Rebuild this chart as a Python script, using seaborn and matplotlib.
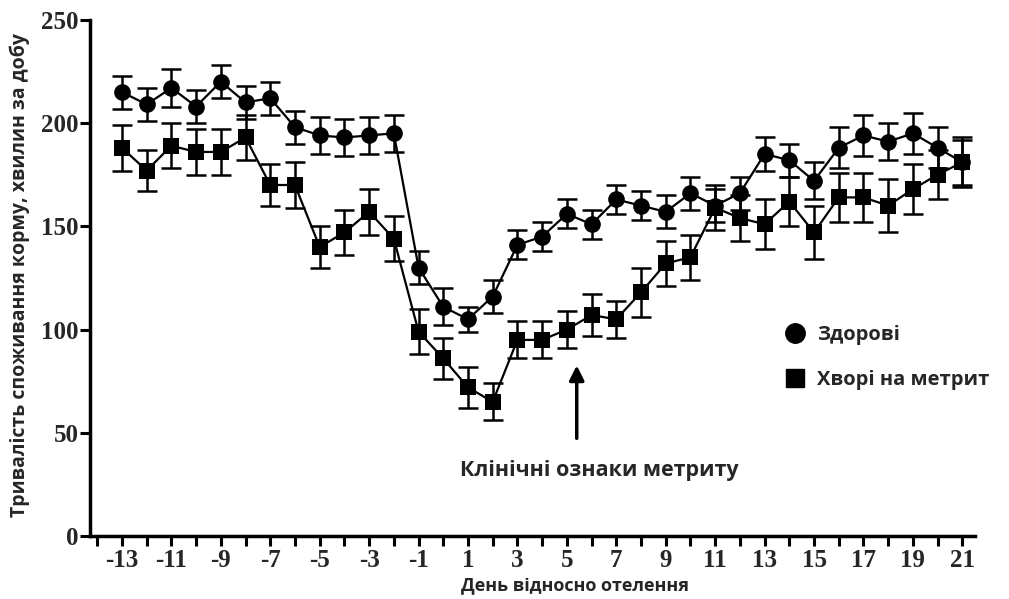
import pandas as pd
import matplotlib
matplotlib.use('Agg')
import matplotlib.pyplot as plt
from matplotlib.lines import Line2D
from matplotlib.ticker import MultipleLocator
import seaborn as sns

# Дані
days = list(range(-13, 22))
healthy = [215, 209, 217, 208, 220, 210, 212, 198, 194, 193, 194, 195, 130, 111,
           105, 116, 141, 145, 156, 151, 163, 160, 157, 166, 160, 166, 185, 182,
           172, 188, 194, 191, 195, 188, 181]
healthy_err = [8, 8, 9, 8, 8, 8, 8, 8, 9, 9, 9, 9, 8, 9,
               6, 8, 7, 7, 7, 7, 7, 7, 8, 8, 8, 8, 8, 8,
               9, 10, 10, 9, 10, 10, 11]
sick = [188, 177, 189, 186, 186, 193, 170, 170, 140, 147, 157, 144, 99, 86,
        72, 65, 95, 95, 100, 107, 105, 118, 132, 135, 159, 154, 151, 162,
        147, 164, 164, 160, 168, 175, 181]
sick_err = [11, 10, 11, 11, 11, 11, 10, 11, 10, 11, 11, 11, 11, 10,
            10, 9, 9, 9, 9, 10, 9, 12, 11, 11, 11, 11, 12, 12,
            13, 12, 12, 13, 12, 12, 12]

groups = ['Здорові', 'Хворі на метрит']
df = pd.DataFrame({
    'День': days * 2,
    'Тривалість': healthy + sick,
    'err': healthy_err + sick_err,
    'Група': [groups[0]] * len(days) + [groups[1]] * len(days),
})

sns.set_style('ticks')
plt.rcParams['font.family'] = ['Open Sans', 'DejaVu Sans']
plt.rcParams['axes.unicode_minus'] = False

fig = plt.figure(figsize=(10.09, 5.99), dpi=100)
ax = fig.add_axes([0.089, 0.105, 0.877, 0.862])

markers = {groups[0]: 'o', groups[1]: 's'}

# Лінії з маркерами
sns.lineplot(data=df, x='День', y='Тривалість', style='Група', markers=markers,
             dashes=False, color='black', linewidth=1.6, markersize=12,
             markeredgewidth=0, legend=False, ax=ax, zorder=3)

# Похибки
for g in groups:
    sub = df[df['Група'] == g]
    ax.errorbar(sub['День'], sub['Тривалість'], yerr=sub['err'], fmt='none',
                ecolor='black', elinewidth=1.8, capsize=7, capthick=1.8, zorder=2)

ax.set_xlim(-14.3, 21.5)
ax.set_ylim(0, 250)
ax.xaxis.set_major_locator(MultipleLocator(2, offset=1))
ax.xaxis.set_minor_locator(MultipleLocator(1))
ax.yaxis.set_major_locator(MultipleLocator(50))
ax.tick_params(axis='both', which='both', direction='out', length=7, width=2.2,
               color='black')
for lbl in ax.get_xticklabels() + ax.get_yticklabels():
    lbl.set_fontfamily('Liberation Serif')
    lbl.set_fontweight('bold')
    lbl.set_fontsize(18)
ax.tick_params(axis='x', pad=2)
ax.tick_params(axis='y', pad=1)

for s in ['top', 'right']:
    ax.spines[s].set_visible(False)
for s in ['left', 'bottom']:
    ax.spines[s].set_linewidth(2.5)
    ax.spines[s].set_color('black')

ax.set_xlabel('День відносно отелення', fontsize=13, fontweight='bold')
ax.set_ylabel('Тривалість споживання корму, хвилин за добу', fontsize=14,
              fontweight='bold')
ax.xaxis.set_label_coords(0.548, -0.08)
ax.yaxis.set_label_coords(-0.068, 0.506)

# Стрілка та підпис
ax.annotate('', xy=(5.4, 84), xytext=(5.4, 46),
            arrowprops=dict(arrowstyle='-|>', color='black', lw=2.5,
                            mutation_scale=22))
ax.text(6.3, 32, 'Клінічні ознаки метриту', ha='center', va='center',
        fontsize=15.5, fontweight='bold')

handles = [Line2D([], [], color='black', marker='o', linestyle='none', markersize=14),
           Line2D([], [], color='black', marker='s', linestyle='none', markersize=13)]
ax.legend(handles, groups, loc='upper left', bbox_to_anchor=(0.76, 0.488),
          bbox_transform=fig.transFigure, frameon=False, labelspacing=1.25,
          handlelength=1.0, handletextpad=0.6,
          prop={'weight': 'bold', 'size': 14.5})

fig.savefig('out.png', dpi=100)
